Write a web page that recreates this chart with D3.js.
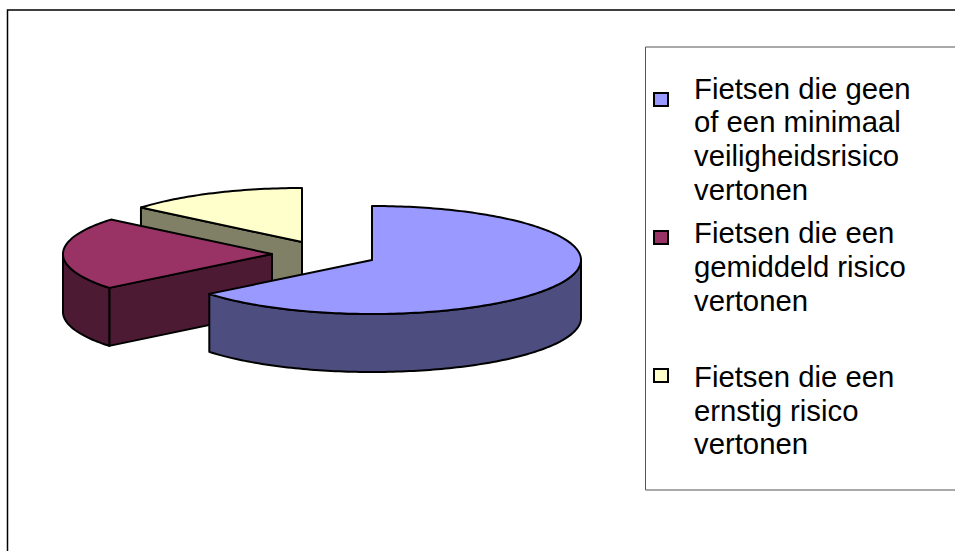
<!DOCTYPE html>
<html>
<head>
<meta charset="utf-8">
<script src="https://cdn.jsdelivr.net/npm/d3@7"></script>
<style>
    html, body { margin: 0; padding: 0; background: #fff; overflow: hidden; }
    svg { display: block; }
    text { font-family: "Liberation Sans", Arial, sans-serif; fill: #000; }
</style>
</head>
<body>
<div id="chart"></div>
<script>
// Data
const categories = ["geen", "gemiddeld", "ernstig"];
const shares = [64.2, 21.8, 14];
const legendLines = [
    ["Fietsen die geen", "of een minimaal", "veiligheidsrisico", "vertonen"],
    ["Fietsen die een", "gemiddeld risico", "vertonen"],
    ["Fietsen die een", "ernstig risico", "vertonen"]
];

const topColors = ["#9999ff", "#993366", "#ffffcc"];
const wallColors = ["#4d4d80", "#4d1a33", "#808066"];

// Layout of the tilted pie
const width = 955, height = 551;
const rx = 209, ry = 54, depth = 58;
const sliceCenters = [[372, 260], [272, 254], [302, 242]];
const legendBox = { x: 645.5, y: 47, bottom: 490 };
const swatchTops = [93, 231, 369];
const legendBaselines = [
    [98.5, 132, 166, 199.5],
    [243, 277, 311],
    [387, 420.5, 454]
];

const svg = d3.select("#chart")
    .append("svg")
    .attr("width", width)
    .attr("height", height);

// Outer frame
svg.append("path")
    .attr("d", `M7.5,${height} V10 H${width}`)
    .attr("fill", "none")
    .attr("stroke", "#000")
    .attr("stroke-width", 1.5);

const colorTop = d3.scaleOrdinal().domain(categories).range(topColors);
const colorWall = d3.scaleOrdinal().domain(categories).range(wallColors);

const arcs = d3.pie().sort(null).value(d => d)(shares);
const line = d3.line();

// angle runs clockwise from 12 o'clock, squashed to an ellipse
function rimPoint(center, angle, drop = 0) {
    return [center[0] + rx * Math.sin(angle), center[1] - ry * Math.cos(angle) + drop];
}

function rim(center, a0, a1, drop = 0) {
    const n = Math.max(2, Math.ceil(Math.abs(a1 - a0) / 0.02));
    return d3.range(n + 1).map(i => rimPoint(center, a0 + (a1 - a0) * i / n, drop));
}

const pieGroup = svg.append("g")
    .attr("stroke", "#000")
    .attr("stroke-width", 2)
    .attr("stroke-linejoin", "round");

function drawPath(points, fill) {
    pieGroup.append("path")
        .attr("d", line(points) + "Z")
        .attr("fill", fill);
}

// Paint back to front: yellow, red, blue
[2, 1, 0].forEach(i => {
    const a = arcs[i];
    const c = sliceCenters[i];
    const key = categories[i];
    const lower = [c[0], c[1] + depth];

    // Cut face that looks at the viewer (blue's is hidden)
    if (i > 0) {
        drawPath([c, rimPoint(c, a.startAngle), rimPoint(c, a.startAngle, depth), lower], colorWall(key));
    }

    // Outer wall, only the front half of the ellipse shows
    const wallStart = Math.max(a.startAngle, Math.PI / 2);
    const wallEnd = Math.min(a.endAngle, Math.PI * 1.5);
    if (wallEnd > wallStart) {
        drawPath(
            rim(c, wallStart, wallEnd).concat(rim(c, wallEnd, wallStart, depth)),
            colorWall(key)
        );
    }

    // Top
    drawPath([c].concat(rim(c, a.startAngle, a.endAngle)), colorTop(key));
});

// Legend
svg.append("path")
    .attr("d", `M${width},${legendBox.y} H${legendBox.x} V${legendBox.bottom} H${width}`)
    .attr("fill", "none")
    .attr("stroke", "#555")
    .attr("stroke-width", 1);

legendLines.forEach((lines, i) => {
    svg.append("rect")
        .attr("x", 654)
        .attr("y", swatchTops[i])
        .attr("width", 14)
        .attr("height", 13)
        .attr("fill", colorTop(categories[i]))
        .attr("stroke", "#000")
        .attr("stroke-width", 2);

    lines.forEach((t, j) => {
        svg.append("text")
            .attr("x", 694)
            .attr("y", legendBaselines[i][j])
            .style("font-size", "29.3px")
            .text(t);
    });
});
</script>
</body>
</html>
